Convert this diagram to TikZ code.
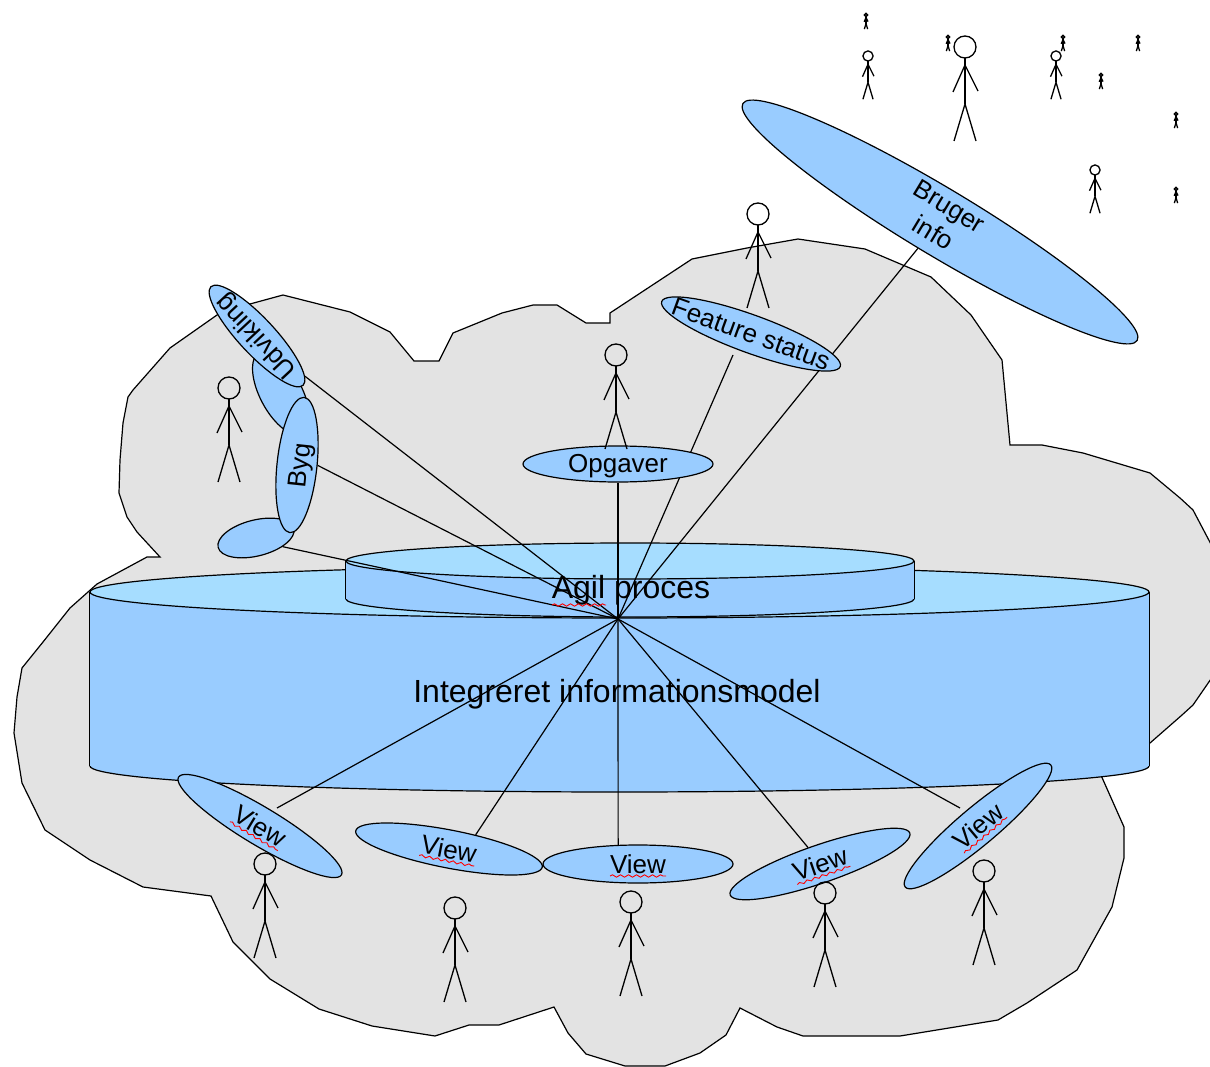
\documentclass[tikz,border=0pt]{standalone}
\usepackage{fontspec}
\setmainfont{Liberation Sans}
\usetikzlibrary{shapes.geometric,decorations.pathmorphing}
\definecolor{cloudgrey}{HTML}{E3E3E3}
\definecolor{bodyblue}{HTML}{99CCFF}
\definecolor{topblue}{HTML}{A6DDFF}
\pgfdeclarelayer{ground}
\pgfdeclarelayer{spokes}
\pgfsetlayers{ground,spokes,main}
\tikzset{
  lens/.style={ellipse, draw=black, fill=bodyblue, line width=1.2pt, inner sep=0pt,
    minimum width=190pt, minimum height=38pt, font=\fontsize{26}{31}\selectfont},
  cyl/.style={ellipse, draw=black, line width=1.2pt, inner sep=0pt},
  spoke/.style={draw=black, line width=1.2pt},
  spell/.style={draw=red, line width=0.9pt, decorate, decoration={snake, amplitude=1.2pt, segment length=8pt}},
  man/.style={line width=1.3pt}
}
\newcommand{\lenstext}[1]{\makebox[0pt]{#1}}
\newcommand{\stickman}[3]{
  \begin{scope}[shift={(#1,#2)},scale=#3,man]
    \draw (0,0) circle (11);
    \draw (0,11) -- (0,57);
    \draw (-12,45) -- (0,18) -- (13,44);
    \draw (-11,94) -- (0,57) -- (11,94);
  \end{scope}
}
\begin{document}
\begin{tikzpicture}[x=1pt,y=-1pt]
  \useasboundingbox (0,0) rectangle (1210,1067);
  \begin{pgfonlayer}{ground}
    \draw[fill=cloudgrey, line width=1.2pt] (283,295) -- (350,312) -- (390,332) -- (414,361) -- (439,361)
      -- (453,333) -- (502,313) -- (533,305) -- (557,305) -- (586,323) -- (610,323) -- (610,313)
      -- (692,259) -- (747,248) -- (798,239) -- (865,249) -- (931,277) -- (971,315) -- (1002,360)
      -- (1010,445) -- (1042,445) -- (1083,453) -- (1150,473) -- (1180,498) -- (1193,510) -- (1213,548)
      -- (1213,676) -- (1193,705) -- (1182,715) -- (1150,743) -- (1100,773) -- (1124,827) -- (1124,858)
      -- (1112,907) -- (1077,970) -- (1027,1003) -- (998,1020) -- (900,1036) -- (803,1036) -- (777,1027)
      -- (740,1008) -- (726,1035) -- (700,1053) -- (665,1066) -- (625,1066) -- (586,1054) -- (568,1033)
      -- (554,1007) -- (499,1025) -- (469,1025) -- (435,1036) -- (372,1026) -- (319,1009) -- (270,979)
      -- (233,942) -- (211,896) -- (143,887) -- (90,860) -- (45,830) -- (22,783) -- (14,733) -- (17,697)
      -- (22,668) -- (43,642) -- (70,608) -- (97,584) -- (147,557) -- (160,557) -- (137,532) -- (127,517)
      -- (119,493) -- (120,460) -- (123,423) -- (128,397) -- (133,390) -- (170,348) -- (217,315)
      -- (250,304) -- cycle;
    % big cylinder
    \node[cyl, fill=bodyblue, minimum width=1059pt, minimum height=52pt] (bigbase) at (619.5,766) {};
    \fill[bodyblue] (bigbase.west) rectangle (1149,592);
    \node[cyl, fill=topblue, minimum width=1059pt, minimum height=52pt] (bigtop) at (619.5,592) {};
    \draw[line width=1.2pt] (bigbase.west) -- (bigtop.west);
    \draw[line width=1.2pt] (bigbase.east) -- (bigtop.east);
    % small cylinder
    \node[cyl, fill=bodyblue, minimum width=568pt, minimum height=36pt] (smallbase) at (630,599) {};
    \fill[bodyblue] (smallbase.west) rectangle (914,561);
    \node[cyl, fill=topblue, minimum width=568pt, minimum height=36pt] (smalltop) at (630,561) {};
    \draw[line width=1.2pt] (smallbase.west) -- (smalltop.west);
    \draw[line width=1.2pt] (smallbase.east) -- (smalltop.east);
  \end{pgfonlayer}

  \coordinate (hub) at (618,619);
  \coordinate (view1end) at (277,808);
  \coordinate (view5end) at (960,808);
  \coordinate (featureend) at (733,355);

  \node[lens, minimum width=92pt, minimum height=42pt, rotate=-62] (midlens) at (281,393) {};
  \node[lens, minimum width=78pt, minimum height=36pt, rotate=14] (lowlens) at (256,538) {};
  \node[lens, minimum width=136pt, minimum height=40pt, inner ysep=-5pt, rotate=84] (byg) at (297,465) {\lenstext{\rule{0pt}{28pt}Byg}};
  \node[lens, minimum width=135pt, minimum height=36pt, rotate=133] (udvikling) at (257,336) {\lenstext{Udvikling}};
  \node[lens, minimum height=36pt, inner ysep=-3pt] (opgaver) at (618,464) {\lenstext{\rule{0pt}{23pt}Opgaver}};
  \node[lens, rotate=-20] (feature) at (751,334) {\lenstext{Feature status}};
  \node[lens, minimum width=460pt, minimum height=67pt, inner ysep=-8pt, rotate=-31] (bruger) at (940,222)
    {\lenstext{\begin{tabular}{@{}c@{}}Bruger\\info\end{tabular}}};
  \foreach \viewname/\x/\y/\a in {view1/260/826/-31, view2/449/849/-11, view3/638/864/0, view4/820/864/19, view5/978/826/40} {
    \node[lens, rotate=\a] (\viewname) at (\x,\y) {\lenstext{View}};
    \draw[spell, shift={(\viewname.center)}, rotate=\a] (-28,12) -- (28,12);
  }

  \begin{pgfonlayer}{spokes}
    \foreach \spokeend in {view1end, view2.39, view3.136, view4.107, view5end, opgaver.south, featureend,
        bruger.261, byg.-85, udvikling.187, lowlens.-32} {
      \draw[spoke] (hub) -- (\spokeend);
    }
  \end{pgfonlayer}

  \foreach \x/\y in {229/388, 616/355, 758/214, 265/864, 455/908, 631/902, 825/893, 984/871, 965/47} {
    \stickman{\x}{\y}{1}
  }
  \foreach \x/\y in {868/56, 1056/56, 1095/170} {
    \stickman{\x}{\y}{0.46}
  }
  \foreach \x/\y in {866/15, 948/37, 1063/37, 1138/37, 1176/114, 1176/189, 1101/75} {
    \stickman{\x}{\y}{0.15}
  }

  \node[font=\fontsize{32}{38}\selectfont, inner sep=0pt] (agil) at (631,590) {Agil proces};
  \draw[spell] (552,605) -- (606,605);
  \node[font=\fontsize{32}{38}\selectfont, inner sep=0pt] (model) at (617,694) {Integreret informationsmodel};
\end{tikzpicture}
\end{document}
